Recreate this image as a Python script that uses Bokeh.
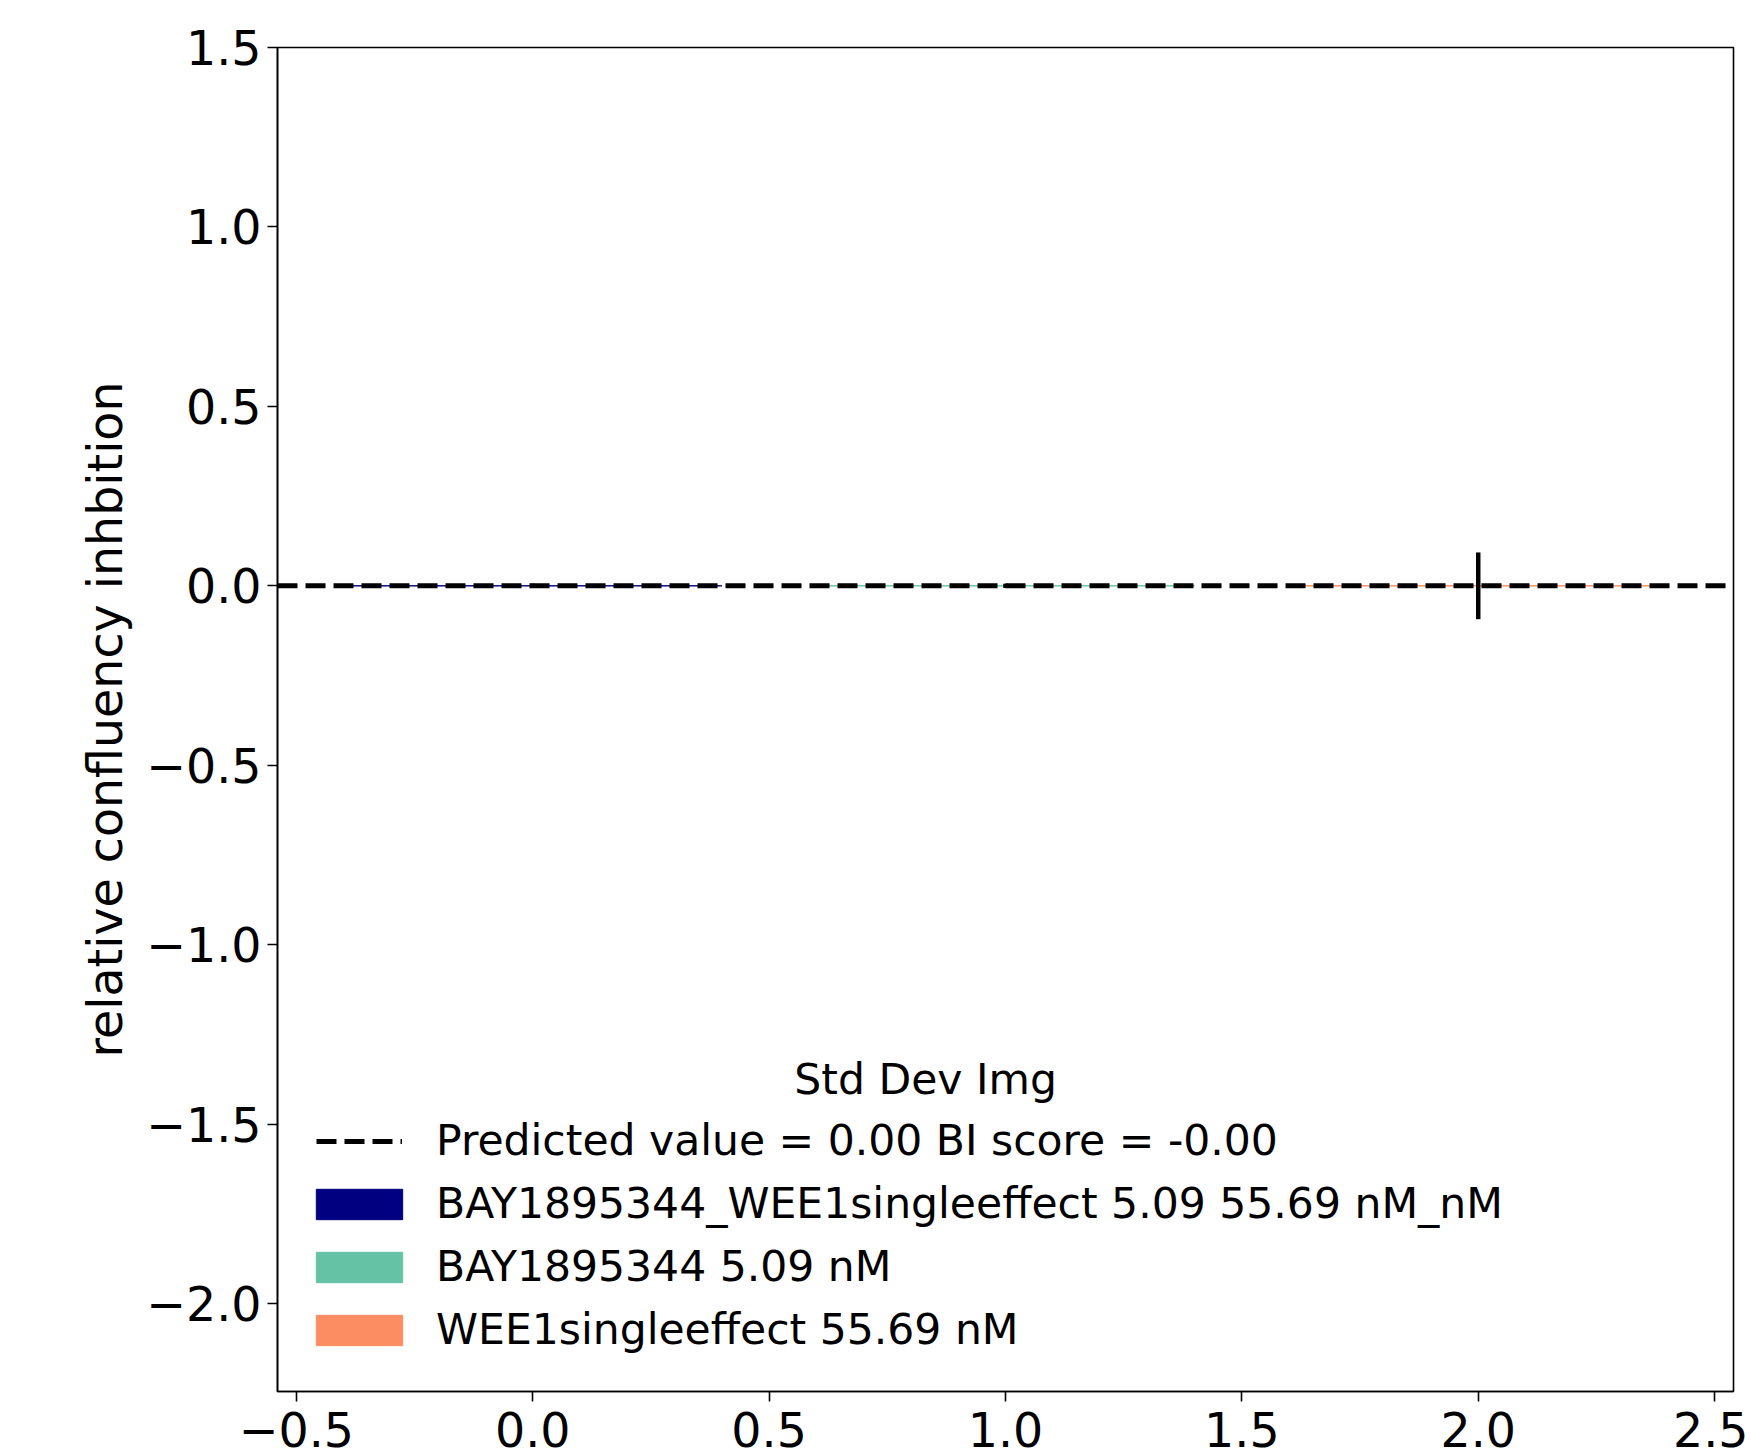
import numpy as np
from bokeh.plotting import figure
from bokeh.models import (ColumnDataSource, Legend, LegendItem, Label, FixedTicker,
                          Range1d, CustomJSTickFormatter)
from bokeh.embed import file_html
from bokeh.resources import INLINE

# ---- data ----
categories = ["BAY1895344_WEE1singleeffect 5.09 55.69 nM_nM",
              "BAY1895344 5.09 nM",
              "WEE1singleeffect 55.69 nM"]
positions = [0, 1, 2]
values = [0.0, 0.0, 0.0]
errors = [0.006, 0.006, 0.093]
colors = ["#000080", "#66c2a5", "#fc8d62"]
predicted_value = 0.0
predicted_label = "Predicted value = 0.00 BI score = -0.00"
legend_title = "Std Dev Img"
y_label = "relative confluency inhbition"
x_ticks = [-0.5, 0.0, 0.5, 1.0, 1.5, 2.0, 2.5]
x_tick_labels = ["\u22120.5", "0.0", "0.5", "1.0", "1.5", "2.0", "2.5"]
y_ticks = [-2.0, -1.5, -1.0, -0.5, 0.0, 0.5, 1.0, 1.5]
y_tick_labels = ["\u22122.0", "\u22121.5", "\u22121.0", "\u22120.5", "0.0", "0.5", "1.0", "1.5"]
x_limits = (-0.54, 2.54)
y_limits = (-2.245, 1.5)
bar_width = 0.8

FONT = "DejaVu Sans"
TICK_SIZE = "47.5px"
LEG_SIZE = "42.5px"

p = figure(width=1748, height=1452, output_backend="svg", toolbar_location=None,
           x_range=Range1d(*x_limits), y_range=Range1d(*y_limits),
           min_border_left=277, min_border_right=15, min_border_top=47,
           min_border_bottom=61)
p.grid.visible = False
p.outline_line_color = "black"
p.outline_line_width = 1.6
p.background_fill_color = "white"
p.border_fill_color = "white"

fmt_code = """
const i = tvals.findIndex(t => Math.abs(t - tick) < 1e-9);
return i >= 0 ? tlabels[i] : '';
"""
p.xaxis.ticker = FixedTicker(ticks=x_ticks)
p.xaxis.formatter = CustomJSTickFormatter(args=dict(tvals=x_ticks, tlabels=x_tick_labels), code=fmt_code)
p.yaxis.ticker = FixedTicker(ticks=y_ticks)
p.yaxis.formatter = CustomJSTickFormatter(args=dict(tvals=y_ticks, tlabels=y_tick_labels), code=fmt_code)

for ax in (p.xaxis, p.yaxis):
    ax.axis_line_color = "black"
    ax.axis_line_width = 1.6
    ax.major_tick_line_color = "black"
    ax.major_tick_line_width = 1.6
    ax.major_tick_out = 10
    ax.major_tick_in = 0
    ax.minor_tick_line_color = None
    ax.major_label_text_font = FONT
    ax.major_label_text_font_size = TICK_SIZE
    ax.major_label_text_color = "black"
p.xaxis.major_label_standoff = 10
p.yaxis.major_label_standoff = 6
p.yaxis.axis_label = y_label
p.yaxis.axis_label_text_font = FONT
p.yaxis.axis_label_text_font_size = TICK_SIZE
p.yaxis.axis_label_text_font_style = "normal"
p.yaxis.axis_label_text_color = "black"
p.yaxis.axis_label_standoff = 10

vals = np.array(values)
errs = np.array(errors)
src = ColumnDataSource(dict(x=positions, top=values, color=colors,
                            lo=(vals - errs).tolist(), hi=(vals + errs).tolist()))

bars = p.vbar(x="x", top="top", bottom=0, width=bar_width, fill_color="color",
              line_color="color", line_width=1, source=src)
pred = p.line(x=list(x_limits), y=[predicted_value, predicted_value], line_color="black",
              line_width=5, line_dash="20 8")
p.segment(x0="x", y0="lo", x1="x", y1="hi", line_color="black", line_width=4.5, source=src)

common = dict(padding=0, margin=0, spacing=0, label_height=63,
              label_text_font=FONT, label_text_font_size=LEG_SIZE,
              label_text_color="black", border_line_alpha=0, background_fill_alpha=0)

legend_line = Legend(items=[LegendItem(label=predicted_label, renderers=[pred])],
                     location=(39, 219), glyph_width=86, glyph_height=30,
                     label_standoff=34, **common)
legend_bars = Legend(items=[LegendItem(label=c, renderers=[bars], index=i)
                            for i, c in enumerate(categories)],
                     location=(28, 30), glyph_width=108, glyph_height=38,
                     label_standoff=23, **common)
p.add_layout(legend_line)
p.add_layout(legend_bars)

title = Label(x=0.831, y=-1.377, text=legend_title, text_align="center",
              text_baseline="middle", text_font=FONT, text_font_size=LEG_SIZE,
              text_color="black")
p.add_layout(title)

open("out.html", "w").write(file_html(p, INLINE))
